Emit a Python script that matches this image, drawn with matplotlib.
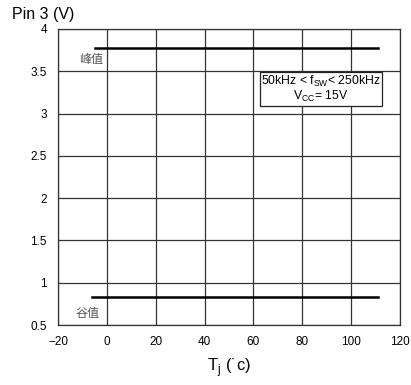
import matplotlib
matplotlib.use("Agg")
import matplotlib.pyplot as plt

plt.rcParams['font.family'] = ['Liberation Sans', 'Noto Sans CJK SC', 'DejaVu Sans']

# data
peak_t = [-5, 111]
peak_v = [3.78, 3.78]
valley_t = [-6, 111]
valley_v = [0.83, 0.83]
x_ticks = [-20, 0, 20, 40, 60, 80, 100, 120]
y_ticks = [0.5, 1, 1.5, 2, 2.5, 3, 3.5, 4]
y_labels = ['0.5', '1', '1.5', '2', '2.5', '3', '3.5', '4']

fig = plt.figure(figsize=(4.11, 3.85), dpi=100)
ax = fig.add_axes([58/411, 1 - 325/385, 342/411, 296/385])

ax.plot(peak_t, peak_v, color='black', linewidth=1.8)
ax.plot(valley_t, valley_v, color='black', linewidth=1.8)

ax.set_xlim(-20, 120)
ax.set_ylim(0.5, 4)
ax.set_xticks(x_ticks)
ax.set_yticks(y_ticks)
ax.set_yticklabels(y_labels)
ax.tick_params(length=0, labelsize=8.5, pad=8)
ax.grid(True, color='#333333', linewidth=0.9)
for s in ax.spines.values():
    s.set_color('#333333')
    s.set_linewidth(0.9)

ax.text(-11.5, 3.645, '峰值', fontsize=8.7, color='#555555', ha='left', va='center',
        family=['Noto Sans CJK SC'])
ax.text(-12.7, 0.635, '谷值', fontsize=8.7, color='#555555', ha='left', va='center',
        family=['Noto Sans CJK SC'])

ax.text(87.7, 3.29, '50kHz < f$_{\\mathregular{SW}}$< 250kHz\nV$_{\\mathregular{CC}}$= 15V',
        fontsize=8.8, ha='center', va='center', linespacing=1.0,
        bbox=dict(facecolor='white', edgecolor='#222222', linewidth=0.9, boxstyle='square,pad=0.12'))

fig.text(12/411, 1 - 15/385, 'Pin 3 (V)', fontsize=11.5, ha='left', va='center')
ax.set_xlabel('T$_{\\mathregular{j}}$ (˙c)', fontsize=12, labelpad=6)

fig.savefig('out.png', dpi=100)
